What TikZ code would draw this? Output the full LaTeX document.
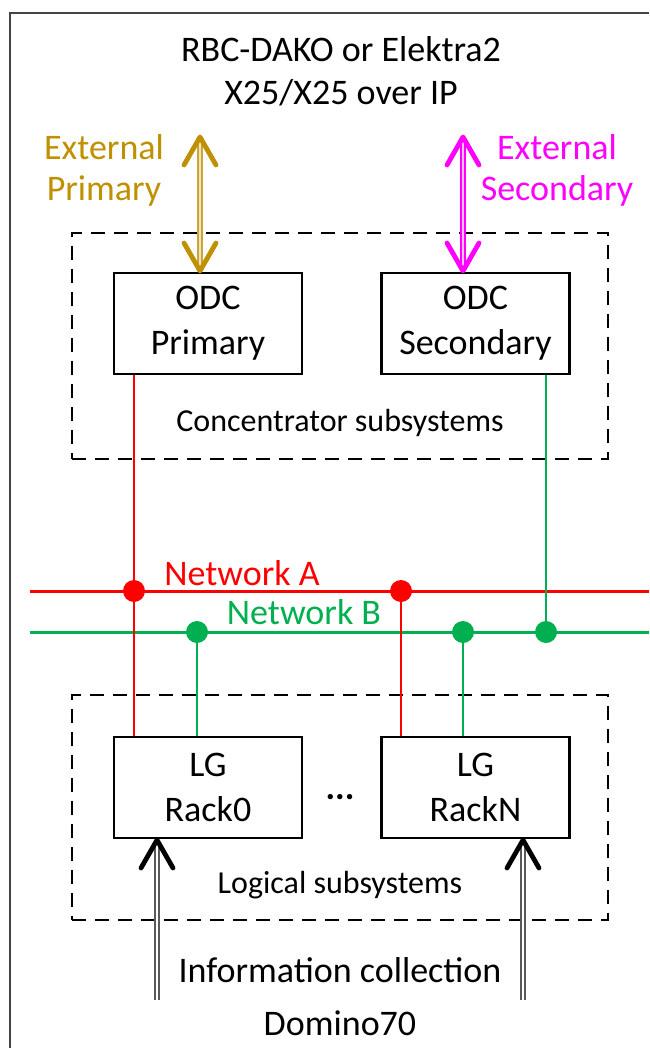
\documentclass[tikz,border=0pt]{standalone}
\usepackage{fontspec}
\setmainfont{Carlito}
\definecolor{gold}{RGB}{191,144,0}
\definecolor{mag}{RGB}{255,0,255}
\definecolor{netred}{RGB}{255,0,0}
\definecolor{netgreen}{RGB}{0,176,80}
\definecolor{framec}{RGB}{68,68,68}
\definecolor{shaftc}{RGB}{90,90,90}
\begin{document}
\begin{tikzpicture}[x=1pt,y=-1pt,
  box/.style={draw=black, fill=white, line width=2.4pt, minimum width=188pt, minimum height=101pt, inner sep=0pt, align=center, font=\fontsize{36}{45}\selectfont},
  dbox/.style={draw=black, line width=2.6pt, dash pattern=on 14pt off 9pt, minimum width=536pt, inner sep=0pt},
  big/.style={font=\fontsize{36}{43}\selectfont, align=center, inner sep=0pt},
  small/.style={font=\fontsize{32}{38}\selectfont, inner sep=0pt},
  netline/.style={line width=3pt},
  conn/.style={line width=2pt},
  dot/.style={circle, inner sep=0pt, minimum size=22pt},
  shaft/.style={double distance=2.6pt, line width=1.5pt},
  head/.style={line width=4.8pt, line cap=round, line join=round}
]
\useasboundingbox (0,0) rectangle (649,1048);
\fill[white] (0,0) rectangle (649,1048);
\draw[framec, line width=2pt] (649,13) -- (10,13) -- (10,1048);

% titles
\node[big] (title) at (341,71) {RBC-DAKO or Elektra2\\X25/X25 over IP};
\node[big, text=gold, font=\fontsize{36}{41}\selectfont] (extp) at (104,170) {External\\Primary};
\node[big, text=mag, font=\fontsize{36}{41}\selectfont] (exts) at (557,170) {External\\Secondary};

% dashed groups
\node[dbox, minimum height=226pt] (conc) at (340,346) {};
\node[dbox, minimum height=225pt] (logi) at (340,807.5) {};

% boxes
\node[box] (odcp) at (208,323.5) {ODC\\Primary};
\node[box] (odcs) at (475.5,323.5) {ODC\\Secondary};
\node[box] (rack0) at (208,787.5) {LG\\Rack0};
\node[box] (rackn) at (475.5,787.5) {LG\\RackN};
\node[font=\fontsize{36}{40}\selectfont\bfseries] (dots) at (340,797) {...};

\node[small] (conclbl) at (340,423) {Concentrator subsystems};
\node[small] (logilbl) at (340,885) {Logical subsystems};

% networks
\coordinate (nAL) at (30,591);
\coordinate (nAR) at (649,591);
\coordinate (nBL) at (30,632);
\coordinate (nBR) at (649,632);
\draw[netline, netred] (nAL) -- (nAR);
\draw[netline, netgreen] (nBL) -- (nBR);
\node[big, text=netred] (netA) at (242,573) {Network A};
\node[big, text=netgreen] (netB) at (304,612) {Network B};

% taps
\coordinate (pA1) at (134,591);
\coordinate (pA2) at (401,591);
\coordinate (pB1) at (197,632);
\coordinate (pB2) at (463,632);
\coordinate (pB3) at (546,632);
\draw[conn, netred] (odcp.south -| pA1) -- (rack0.north -| pA1);
\draw[conn, netred] (pA2) -- (rackn.north -| pA2);
\draw[conn, netgreen] (pB1) -- (rack0.north -| pB1);
\draw[conn, netgreen] (pB2) -- (rackn.north -| pB2);
\draw[conn, netgreen] (odcs.south -| pB3) -- (pB3);
\node[dot, fill=netred] (dA1) at (pA1) {};
\node[dot, fill=netred] (dA2) at (pA2) {};
\node[dot, fill=netgreen] (dB1) at (pB1) {};
\node[dot, fill=netgreen] (dB2) at (pB2) {};
\node[dot, fill=netgreen] (dB3) at (pB3) {};

% external arrows
\coordinate (gt) at (200,137);
\coordinate (gb) at (200,271);
\draw[shaft, gold!80, double=gold!25] (gt) -- (gb);
\draw[head, gold] (gt) ++(-16,28) -- (gt) -- ++(16,28);
\draw[head, gold] (gb) ++(-16,-28) -- (gb) -- ++(16,-28);
\coordinate (mt) at (463,137);
\coordinate (mb) at (463,271);
\draw[shaft, mag, double=mag!25] (mt) -- (mb);
\draw[head, mag] (mt) ++(-16,28) -- (mt) -- ++(16,28);
\draw[head, mag] (mb) ++(-16,-28) -- (mb) -- ++(16,-28);

% information collection arrows
\coordinate (i0) at (157,1000);
\coordinate (i0t) at (157,840);
\coordinate (in) at (523,1000);
\coordinate (int) at (523,840);
\draw[shaft, shaftc, double=white] (i0) -- (i0t);
\draw[head, black] (i0t) ++(-16,28) -- (i0t) -- ++(16,28);
\draw[shaft, shaftc, double=white] (in) -- (int);
\draw[head, black] (int) ++(-16,28) -- (int) -- ++(16,28);

\node[big] (info) at (340,970) {Information collection};
\node[big] (domino) at (340,1023) {Domino70};
\end{tikzpicture}
\end{document}
